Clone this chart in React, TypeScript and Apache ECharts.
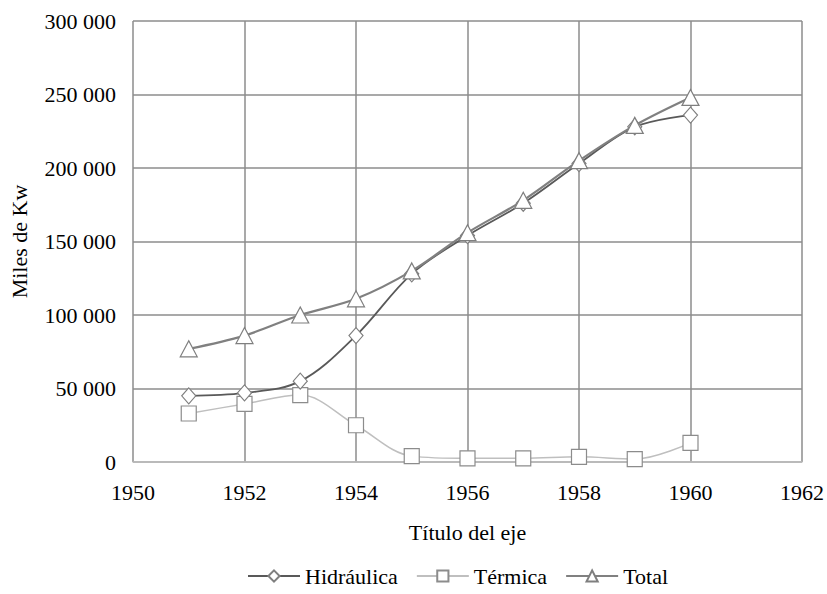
import React, { useEffect, useRef } from "react";
import * as echarts from "echarts";

const years = [1951, 1952, 1953, 1954, 1955, 1956, 1957, 1958, 1959, 1960];
const hidraulica = [45000, 47000, 55000, 86000, 128000, 154000, 176000, 203000, 228000, 236000];
const termica = [33000, 39500, 45500, 25000, 4000, 2500, 2500, 3500, 2000, 13000];
const total = [77000, 86000, 100000, 111000, 130000, 156000, 178000, 205000, 229000, 248000];

const FONT = "Liberation Serif";
const FS = 22;

function pairs(vals: number[]) {
  return years.map((y, i) => [y, vals[i]]);
}

export default function App() {
  const ref = useRef<HTMLDivElement>(null);
  useEffect(() => {
    document.body.style.margin = "0";
    const chart = echarts.init(ref.current!, null, { renderer: "svg" });
    chart.setOption({
      animation: false,
      backgroundColor: "#ffffff",
      textStyle: { fontFamily: FONT, fontSize: FS, color: "#000" },
      grid: { left: 132, right: 24, top: 21, bottom: 132, containLabel: false },
      legend: {
        bottom: 2,
        left: 242,
        itemWidth: 52,
        itemHeight: 14,
        itemGap: 18,
        textStyle: { fontFamily: FONT, fontSize: FS, color: "#000" },
        data: ["Hidráulica", "Térmica", "Total"],
      },
      xAxis: {
        type: "value",
        min: 1950,
        max: 1962,
        interval: 2,
        name: "Título del eje",
        nameLocation: "middle",
        nameGap: 59,
        nameTextStyle: { fontFamily: FONT, fontSize: FS, color: "#000" },
        axisLine: { show: true, lineStyle: { color: "#c0c0c0", width: 1.5 } },
        axisTick: { show: false },
        axisLabel: {
          fontFamily: FONT,
          fontSize: FS,
          color: "#000",
          margin: 19,
          formatter: (v: number) => String(v),
        },
        splitLine: { show: true, lineStyle: { color: "#8c8c8c", width: 1.5 } },
      },
      yAxis: {
        type: "value",
        min: 0,
        max: 300000,
        interval: 50000,
        name: "Miles de Kw",
        nameLocation: "middle",
        nameGap: 103,
        nameRotate: 90,
        nameTextStyle: { fontFamily: FONT, fontSize: FS, color: "#000" },
        axisLine: { show: false },
        axisTick: { show: false },
        axisLabel: {
          fontFamily: FONT,
          fontSize: FS,
          color: "#000",
          margin: 17,
          formatter: (v: number) => String(v).replace(/\B(?=(\d{3})+(?!\d))/g, " "),
        },
        splitLine: { show: true, lineStyle: { color: "#8c8c8c", width: 1.5 } },
      },
      series: [
        {
          name: "Hidráulica",
          type: "line",
          data: pairs(hidraulica),
          smooth: 0.35,
          symbol: "diamond",
          symbolSize: [14, 16],
          lineStyle: { color: "#595959", width: 1.8 },
          itemStyle: { color: "#ffffff", borderColor: "#7f7f7f", borderWidth: 1.2 },
          color: "#595959",
          z: 3,
        },
        {
          name: "Térmica",
          type: "line",
          data: pairs(termica),
          smooth: 0.35,
          symbol: "rect",
          symbolSize: 15,
          lineStyle: { color: "#bfbfbf", width: 1.5 },
          itemStyle: { color: "#ffffff", borderColor: "#8c8c8c", borderWidth: 1.2 },
          color: "#bfbfbf",
          z: 2,
        },
        {
          name: "Total",
          type: "line",
          data: pairs(total),
          smooth: 0.35,
          symbol: "triangle",
          symbolSize: [17, 16],
          lineStyle: { color: "#808080", width: 2.2 },
          itemStyle: { color: "#ffffff", borderColor: "#7f7f7f", borderWidth: 1.2 },
          color: "#808080",
          z: 4,
        },
      ],
    });
    return () => chart.dispose();
  }, []);
  return <div ref={ref} style={{ width: 827, height: 594 }} />;
}
